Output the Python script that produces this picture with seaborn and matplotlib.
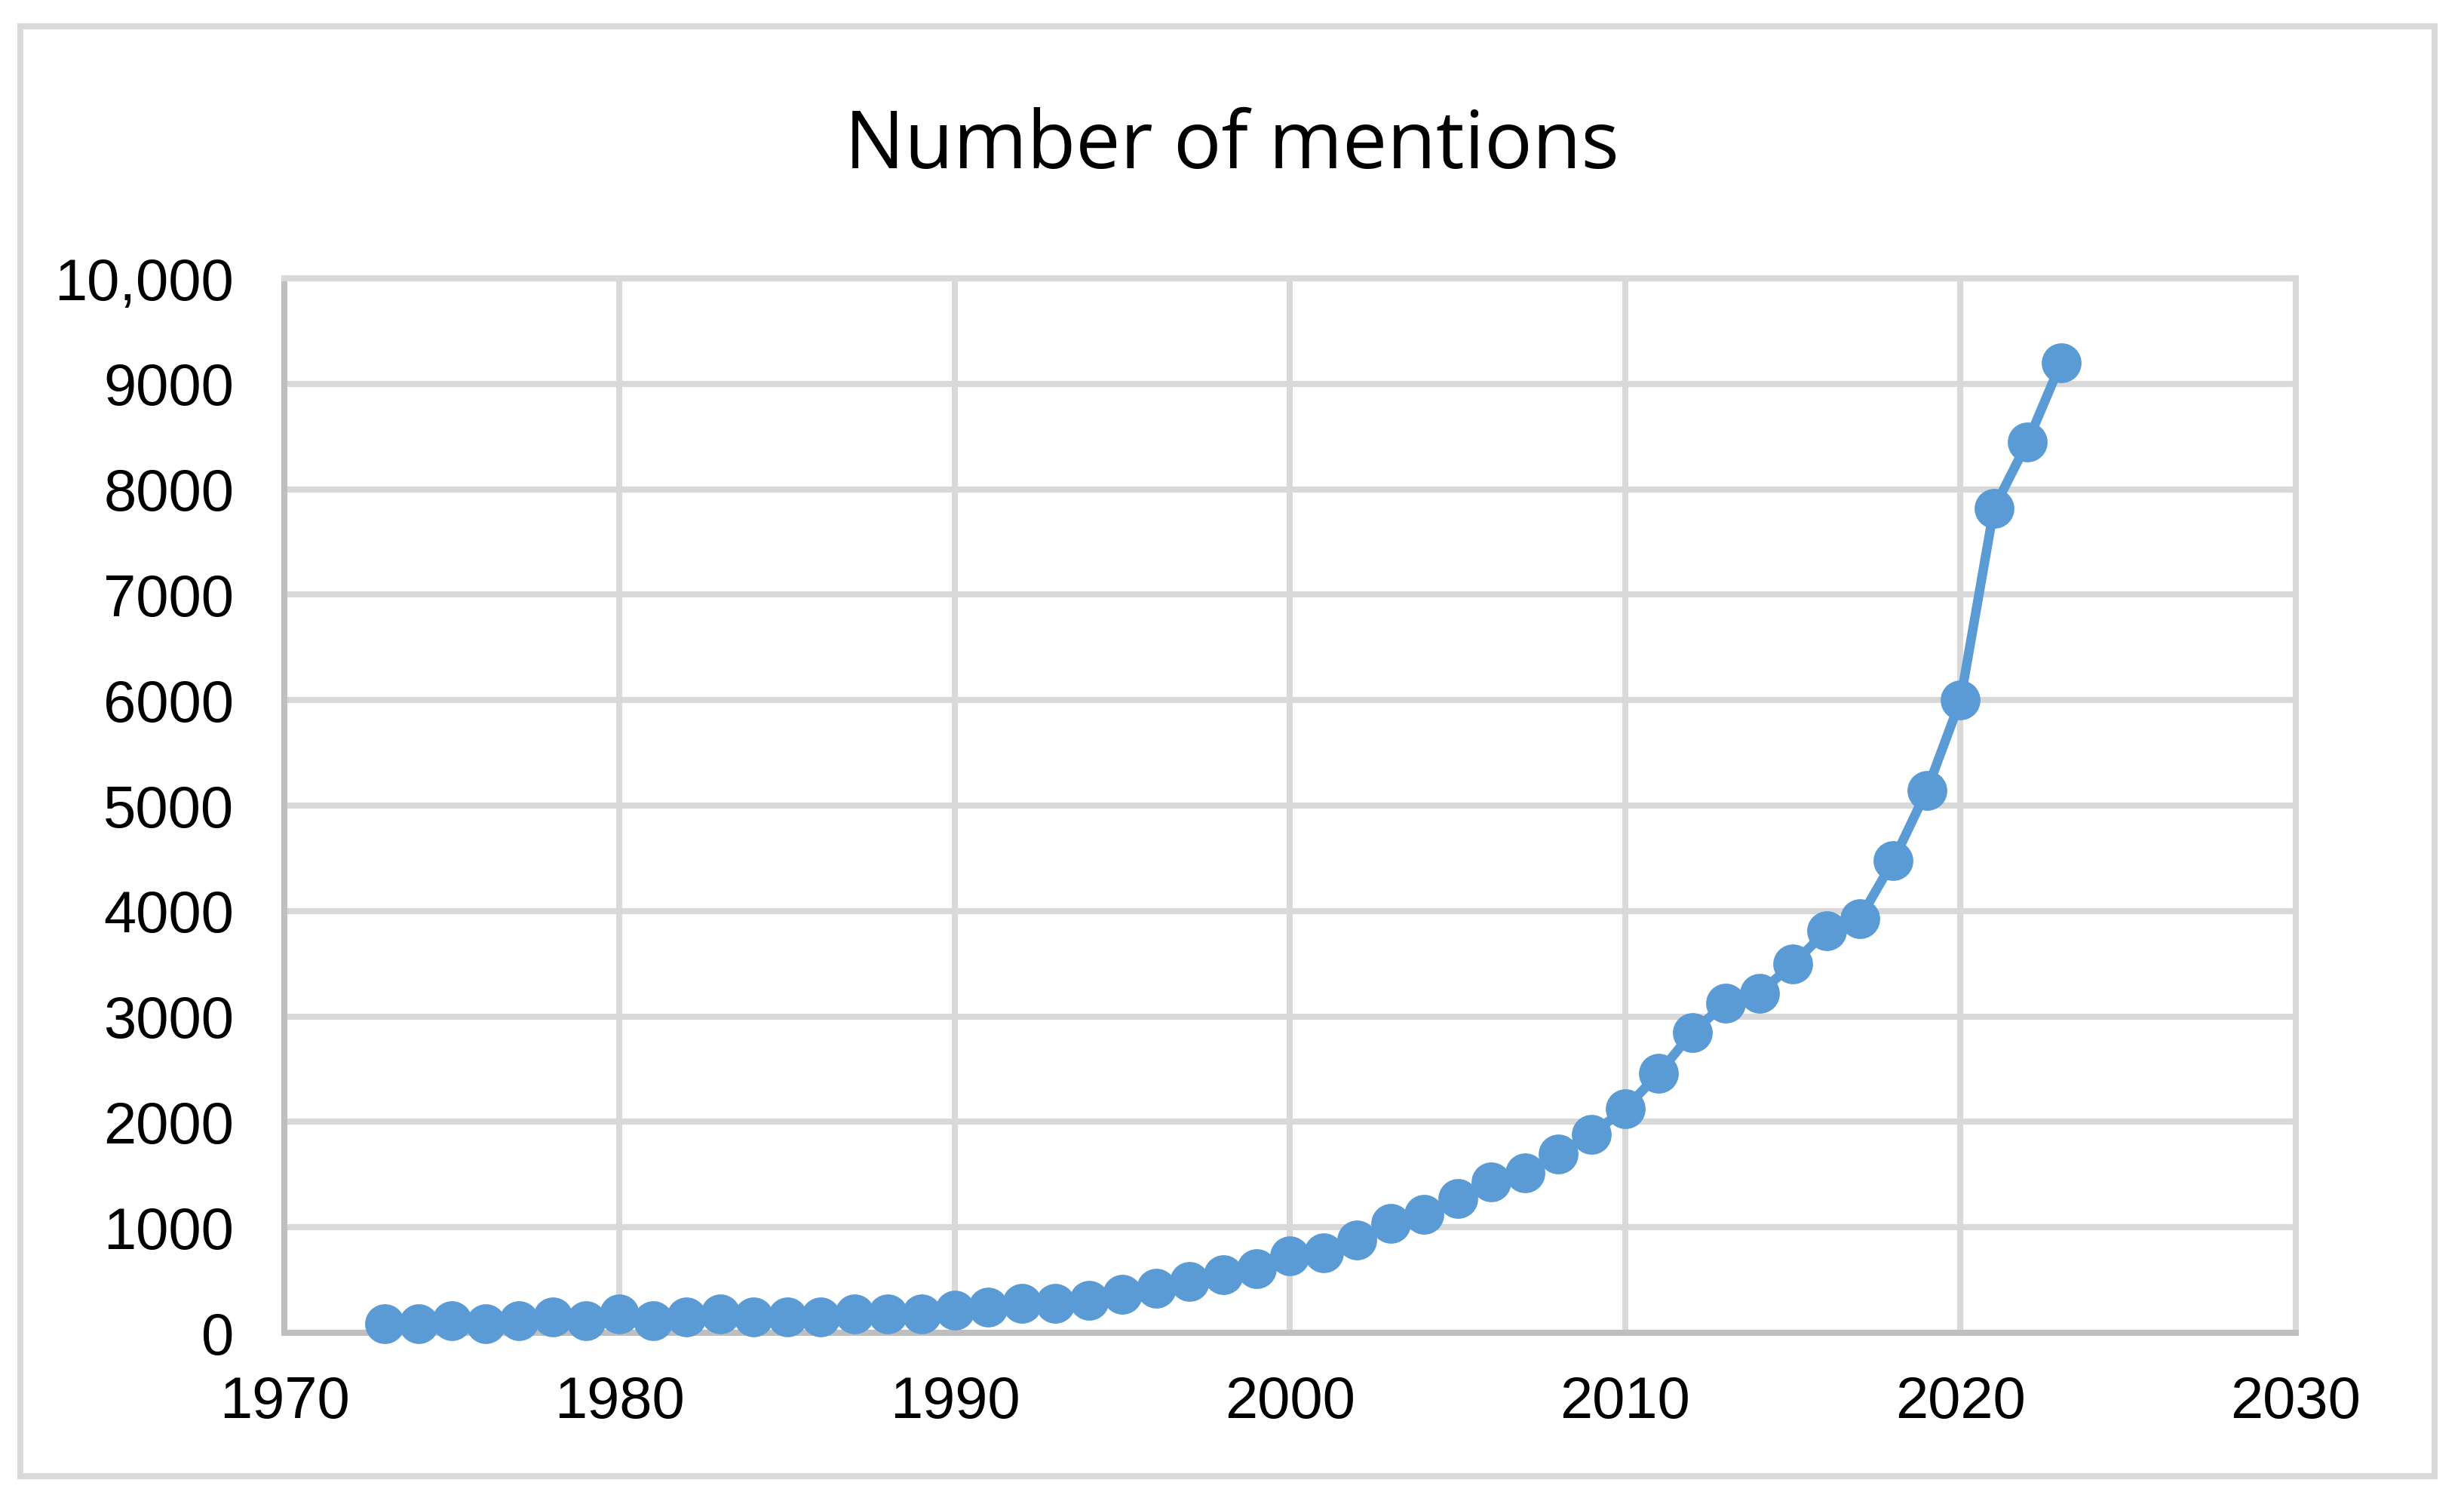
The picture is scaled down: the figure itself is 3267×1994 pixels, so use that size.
import matplotlib.pyplot as plt
import matplotlib.patches as mpatches
import pandas as pd
import seaborn as sns

# values
anos = list(range(1973, 2024))
mencoes = [85, 90, 118, 90, 118, 150, 118, 180, 115, 150,
           180, 150, 150, 150, 182, 182, 182, 215, 243, 276,
           276, 305, 366, 425, 487, 548, 610, 730, 760, 880,
           1035, 1127, 1276, 1429, 1514, 1698, 1883, 2127, 2460, 2851,
           3127, 3222, 3498, 3810, 3930, 4480, 5147, 6000, 7821, 8448,
           9200]

y_ticks = [0, 1000, 2000, 3000, 4000, 5000, 6000, 7000, 8000, 9000, 10000]
y_labels = ['0', '1000', '2000', '3000', '4000', '5000', '6000', '7000', '8000', '9000', '10,000']
x_ticks = [1970, 1980, 1990, 2000, 2010, 2020, 2030]

titulo = 'Number of mentions'

sns.set_style('white')
plt.rcParams['font.family'] = ['Liberation Sans', 'DejaVu Sans']

dados = pd.DataFrame({'ano': anos, 'mencoes': mencoes})

fig = plt.figure(figsize=(16.335, 9.97), dpi=200)
ax = fig.add_axes([0.1154, 0.1138, 0.8163, 0.7011])

sns.lineplot(data=dados, x='ano', y='mencoes', ax=ax, color='#5B9BD5',
             linewidth=4.5, marker='o', markersize=19, markeredgewidth=0,
             clip_on=False, zorder=3)

# Configurações do gráfico
ax.set_xlim(1970, 2030)
ax.set_ylim(0, 10000)
ax.set_xticks(x_ticks)
ax.set_yticks(y_ticks)
ax.set_yticklabels(y_labels)
ax.set_xlabel('')
ax.set_ylabel('')
ax.grid(True, color='#D9D9D9', linewidth=2.9)
ax.set_axisbelow(True)
ax.tick_params(axis='both', length=0, labelsize=28, colors='black')
ax.tick_params(axis='y', pad=24)
ax.tick_params(axis='x', pad=20)

for lado in ['top', 'right']:
    ax.spines[lado].set_color('#D9D9D9')
    ax.spines[lado].set_linewidth(2.9)
for lado in ['left', 'bottom']:
    ax.spines[lado].set_color('#BFBFBF')
    ax.spines[lado].set_linewidth(2.9)

fig.text(0.5, 0.902, titulo, ha='center', va='center', fontsize=38,
         family=['Open Sans', 'DejaVu Sans'], color='black')

# moldura externa
borda = mpatches.Rectangle((0.0083, 0.0186), 0.9798, 0.9639, transform=fig.transFigure,
                           fill=False, edgecolor='#D9D9D9', linewidth=2.9)
fig.patches.append(borda)

fig.savefig('out.png', dpi=200, facecolor='white')
